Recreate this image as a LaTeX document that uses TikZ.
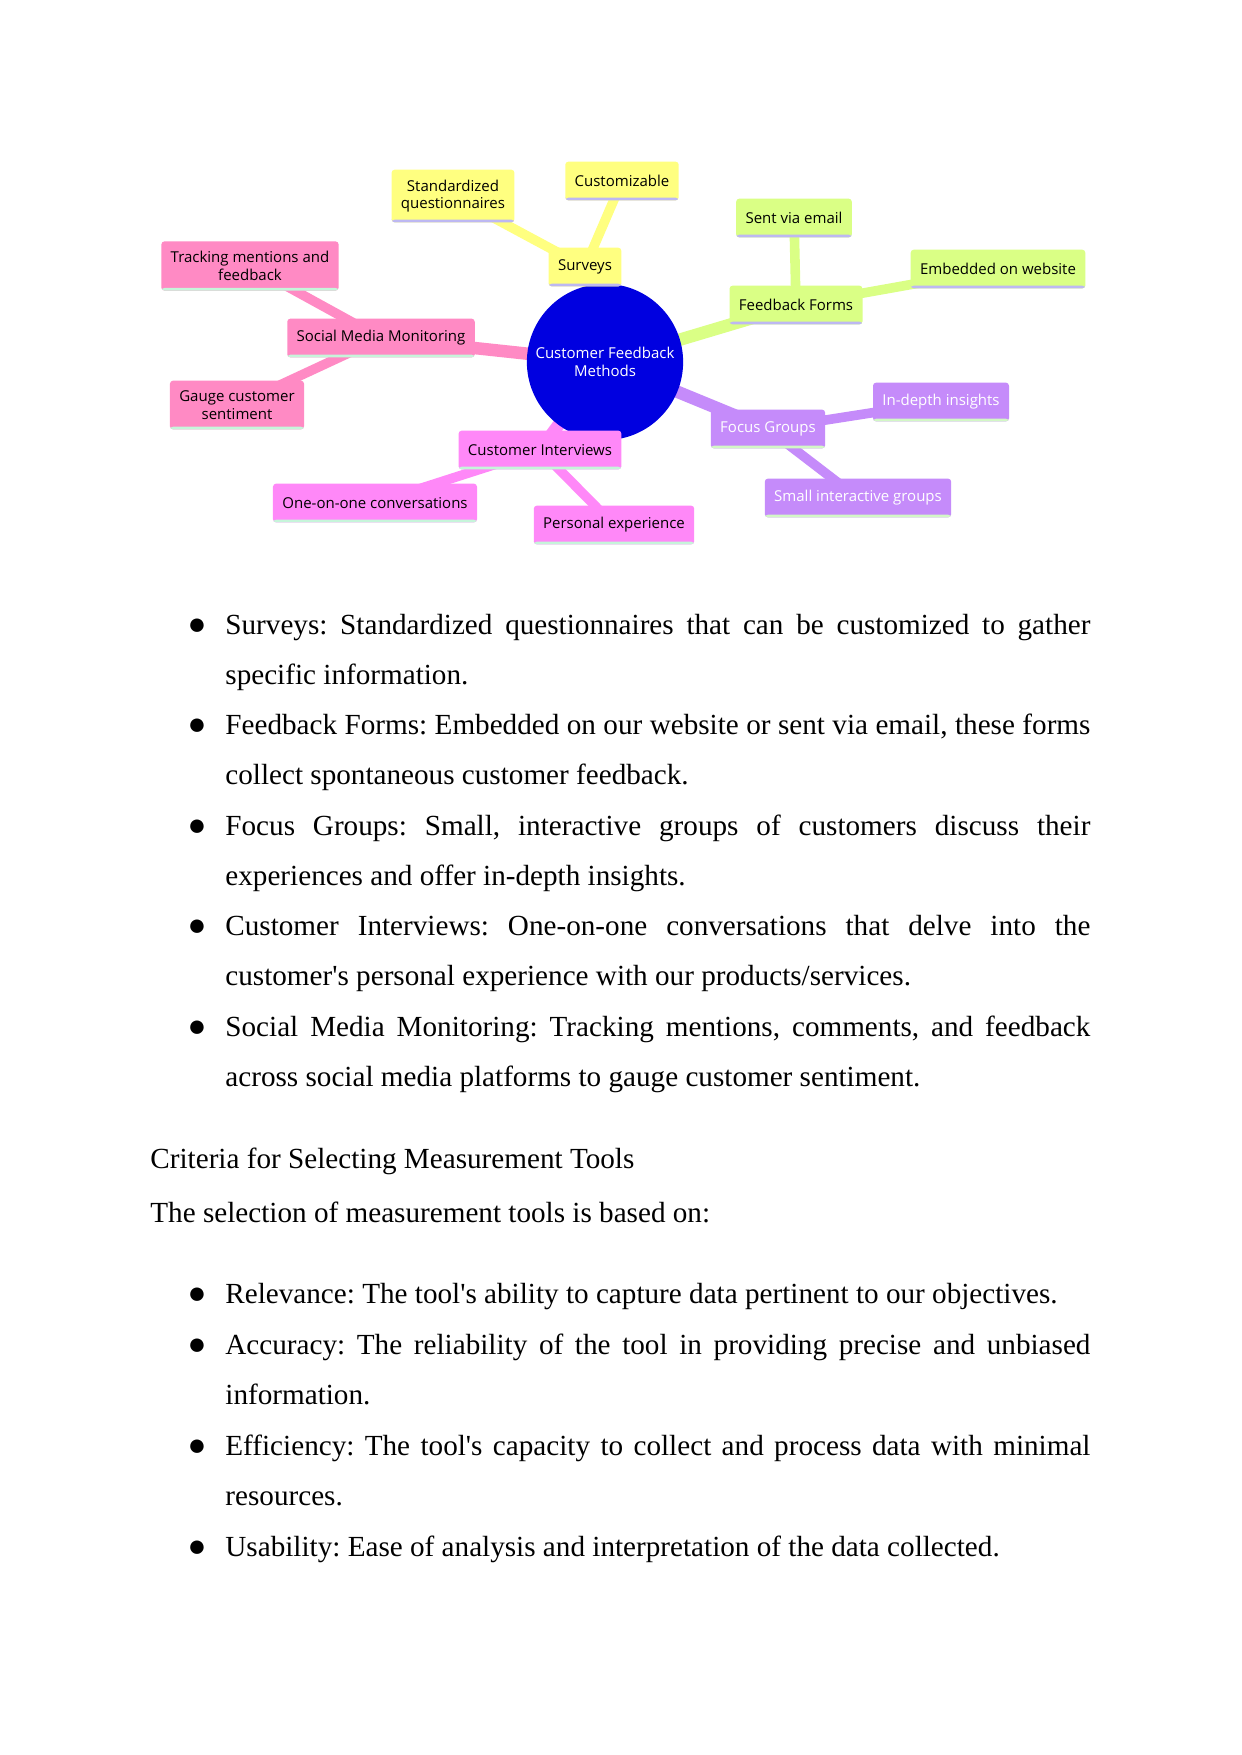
\documentclass[tikz,border=0pt]{standalone}
\usepackage{fontspec}
\newfontfamily\bodyfont{Liberation Serif}
\newfontfamily\mapfont{Open Sans}
\usetikzlibrary{backgrounds}

\definecolor{cyel}{HTML}{FFFF80}
\definecolor{cgrn}{HTML}{DAFF85}
\definecolor{cpur}{HTML}{C58BFA}
\definecolor{cpnk}{HTML}{FF8AC4}
\definecolor{cmag}{HTML}{FF88F8}
\definecolor{croot}{HTML}{0000E0}
\definecolor{clav}{HTML}{BDB8F2}
\definecolor{cmint}{HTML}{C6F5DA}
\definecolor{clim}{HTML}{D3F7C6}

\begin{document}
\frenchspacing
\begin{tikzpicture}[
  x=0.48pt, y=-0.48pt,
  topic/.style={rounded corners=1.5pt, inner xsep=4.5pt, inner ysep=4.8pt, minimum height=18.6pt,
    align=center, font=\mapfont\fontsize{7.2}{8.5}\selectfont},
  underbar/.style={path picture={\fill[#1] ([yshift=1.3pt]path picture bounding box.south west)
    rectangle (path picture bounding box.south east);}},
  yel/.style={topic, fill=cyel, underbar=clav},
  grn/.style={topic, fill=cgrn, underbar=clav},
  pur/.style={topic, fill=cpur, text=white, underbar=clim},
  pnk/.style={topic, fill=cpnk, underbar=cmint},
  mag/.style={topic, fill=cmag, underbar=cmint},
  hub/.style={circle, fill=croot, text=white, minimum size=75pt, inner sep=0pt, align=center,
    font=\mapfont\fontsize{7.2}{8.5}\selectfont},
  link/.style={line width=4.6pt},
  mainlink/.style={line width=6pt},
  item/.style={anchor=base west, inner sep=0pt, text width=415.2pt, align=justify,
    font=\bodyfont\fontsize{14}{24.2}\selectfont},
  bul/.style={anchor=base, inner sep=0pt, font=\bodyfont\fontsize{15}{16}\selectfont},
  para/.style={anchor=base west, inner sep=0pt, font=\bodyfont\fontsize{14}{16}\selectfont}
]
\useasboundingbox (0,0) rectangle (1242,1755);

% mind map
\node[hub] (root) at (605,362) {Customer Feedback\\Methods};

\node[yel] (surv) at (585,267) {Surveys};
\node[yel] (std) at (453,196) {Standardized\\questionnaires};
\node[yel] (cust) at (622,181) {Customizable};

\node[grn] (ff) at (796,305) {Feedback Forms};
\node[grn] (sent) at (794,218) {Sent via email};
\node[grn] (emb) at (998,269) {Embedded on website};

\node[pur] (fg) at (768,429) {Focus Groups};
\node[pur] (ind) at (941,402) {In-depth insights};
\node[pur] (sig) at (858,498) {Small interactive groups};

\node[mag] (ci) at (540,450) {Customer Interviews};
\node[mag] (one) at (375,503) {One-on-one conversations};
\node[mag] (pex) at (614,525) {Personal experience};

\node[pnk] (smm) at (381,338) {Social Media Monitoring};
\node[pnk] (trk) at (250,266) {Tracking mentions and\\feedback};
\node[pnk] (gau) at (237,405) {Gauge customer\\sentiment};

\begin{scope}[on background layer]
  \fill[white] (0,0) rectangle (1242,1755);
  \draw[mainlink, cyel] (root.center) -- (surv.center);
  \draw[link, cyel] (surv.center) -- (std.center);
  \draw[link, cyel] (surv.center) -- (cust.center);
  \draw[mainlink, cgrn] (root.center) -- (ff.center);
  \draw[link, cgrn] (ff.center) -- (sent.center);
  \draw[link, cgrn] (ff.center) -- (emb.center);
  \draw[mainlink, cpur] (root.center) -- (fg.center);
  \draw[link, cpur] (fg.center) -- (ind.center);
  \draw[link, cpur] (fg.center) -- (sig.center);
  \draw[mainlink, cmag] (root.center) -- (ci.center);
  \draw[link, cmag] (ci.center) -- (one.center);
  \draw[link, cmag] (ci.center) -- (pex.center);
  \draw[mainlink, cpnk] (root.center) -- (smm.center);
  \draw[link, cpnk] (smm.center) -- (trk.center);
  \draw[link, cpnk] (smm.center) -- (gau.center);
\end{scope}

% methods list
\node[bul] (b1) at (197,634) {●};
\node[item] (m1) at (225,634) {Surveys: Standardized questionnaires that can be customized to gather\linebreak specific information.};
\node[bul] (b2) at (197,734.5) {●};
\node[item] (m2) at (225,734.5) {Feedback Forms: Embedded on our website or sent via email, these forms\linebreak collect spontaneous customer feedback.};
\node[bul] (b3) at (197,835) {●};
\node[item] (m3) at (225,835) {Focus Groups: Small, interactive groups of customers discuss their\linebreak experiences and offer in-depth insights.};
\node[bul] (b4) at (197,935.5) {●};
\node[item] (m4) at (225,935.5) {Customer Interviews: One-on-one conversations that delve into the\linebreak customer's personal experience with our products/services.};
\node[bul] (b5) at (197,1036) {●};
\node[item] (m5) at (225,1036) {Social Media Monitoring: Tracking mentions, comments, and feedback\linebreak across social media platforms to gauge customer sentiment.};

% criteria
\node[para] (crit) at (150,1168) {Criteria for Selecting Measurement Tools};
\node[para] (sel) at (150,1222) {The selection of measurement tools is based on:};

\node[bul] (b6) at (197,1303) {●};
\node[item] (c1) at (225,1303) {Relevance: The tool's ability to capture data pertinent to our objectives.};
\node[bul] (b7) at (197,1354) {●};
\node[item] (c2) at (225,1354) {Accuracy: The reliability of the tool in providing precise and unbiased\linebreak information.};
\node[bul] (b8) at (197,1455) {●};
\node[item] (c3) at (225,1455) {Efficiency: The tool's capacity to collect and process data with minimal\linebreak resources.};
\node[bul] (b9) at (197,1556) {●};
\node[item] (c4) at (225,1556) {Usability: Ease of analysis and interpretation of the data collected.};
\end{tikzpicture}
\end{document}
